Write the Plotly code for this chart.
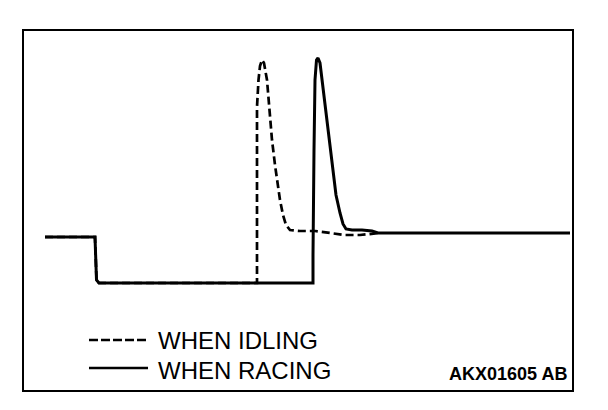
import plotly.graph_objects as go

# Time axis (arbitrary units) and signal level (arbitrary units)
racing_t = [21, 71, 72.5, 75, 289, 289, 290, 291, 292.5, 294, 296, 299, 303, 306, 309,
            312, 316, 319, 322, 328, 338, 348, 354, 546]
racing_v = [153, 153, 110, 107, 107, 135, 240, 310, 330, 332, 327, 302, 267, 240, 217,
            195, 177, 166, 161, 160, 160, 159, 157, 157]

idling_t = [21, 71, 72.5, 75, 233, 233, 233, 234.5, 236, 238, 240, 243, 246, 248, 251,
            253, 256, 259, 262, 266, 276, 291, 306, 321, 336, 348, 356]
idling_v = [153, 153, 110, 107, 107, 190, 283, 310, 324, 330, 327, 310, 275, 250, 225,
            210, 190, 175, 165, 160, 159, 159, 157, 155, 155, 156, 157]

series_names = ["WHEN IDLING", "WHEN RACING"]
figure_code = "AKX01605 AB"

X_RANGE = [0, 548]
Y_RANGE = [0, 359]

fig = go.Figure()
fig.add_trace(go.Scatter(x=racing_t, y=racing_v, mode="lines", name=series_names[1],
                         line=dict(color="black", width=3), showlegend=False))
fig.add_trace(go.Scatter(x=idling_t, y=idling_v, mode="lines", name=series_names[0],
                         line=dict(color="black", width=2.7, dash="8px,4px"), showlegend=False))

# legend samples
fig.add_shape(type="line", xref="paper", yref="paper", x0=0.1186, x1=0.2263, y0=0.1393, y1=0.1393,
              line=dict(color="black", width=2.7, dash="9px,3px"))
fig.add_shape(type="line", xref="paper", yref="paper", x0=0.1186, x1=0.2263, y0=0.0613, y1=0.0613,
              line=dict(color="black", width=2.7))

font_main = dict(family="Liberation Sans, Arial, sans-serif", size=24, color="black")
fig.add_annotation(xref="paper", yref="paper", x=0.2430, y=0.1365, text=series_names[0],
                   showarrow=False, xanchor="left", yanchor="middle", font=font_main, borderpad=0)
fig.add_annotation(xref="paper", yref="paper", x=0.2430, y=0.0557, text=series_names[1],
                   showarrow=False, xanchor="left", yanchor="middle", font=font_main, borderpad=0)
fig.add_annotation(xref="paper", yref="paper", x=0.9935, y=0.0446, text="<b>" + figure_code + "</b>",
                   showarrow=False, xanchor="right", yanchor="middle", borderpad=0,
                   font=dict(family="Liberation Sans, Arial, sans-serif", size=18, color="black"))

axis_common = dict(showgrid=False, zeroline=False, showticklabels=False, ticks="",
                   showline=True, linecolor="black", linewidth=2, mirror=True, fixedrange=True)
fig.update_xaxes(range=X_RANGE, **axis_common)
fig.update_yaxes(range=Y_RANGE, **axis_common)

# the page body adds an 8px margin, so the figure is 8px smaller and margins shifted
fig.update_layout(
    width=600, height=402,
    margin=dict(l=16, r=36, t=23, b=20),
    paper_bgcolor="white", plot_bgcolor="white",
    showlegend=False,
)

fig.write_html("out.html", config={"displayModeBar": False})
